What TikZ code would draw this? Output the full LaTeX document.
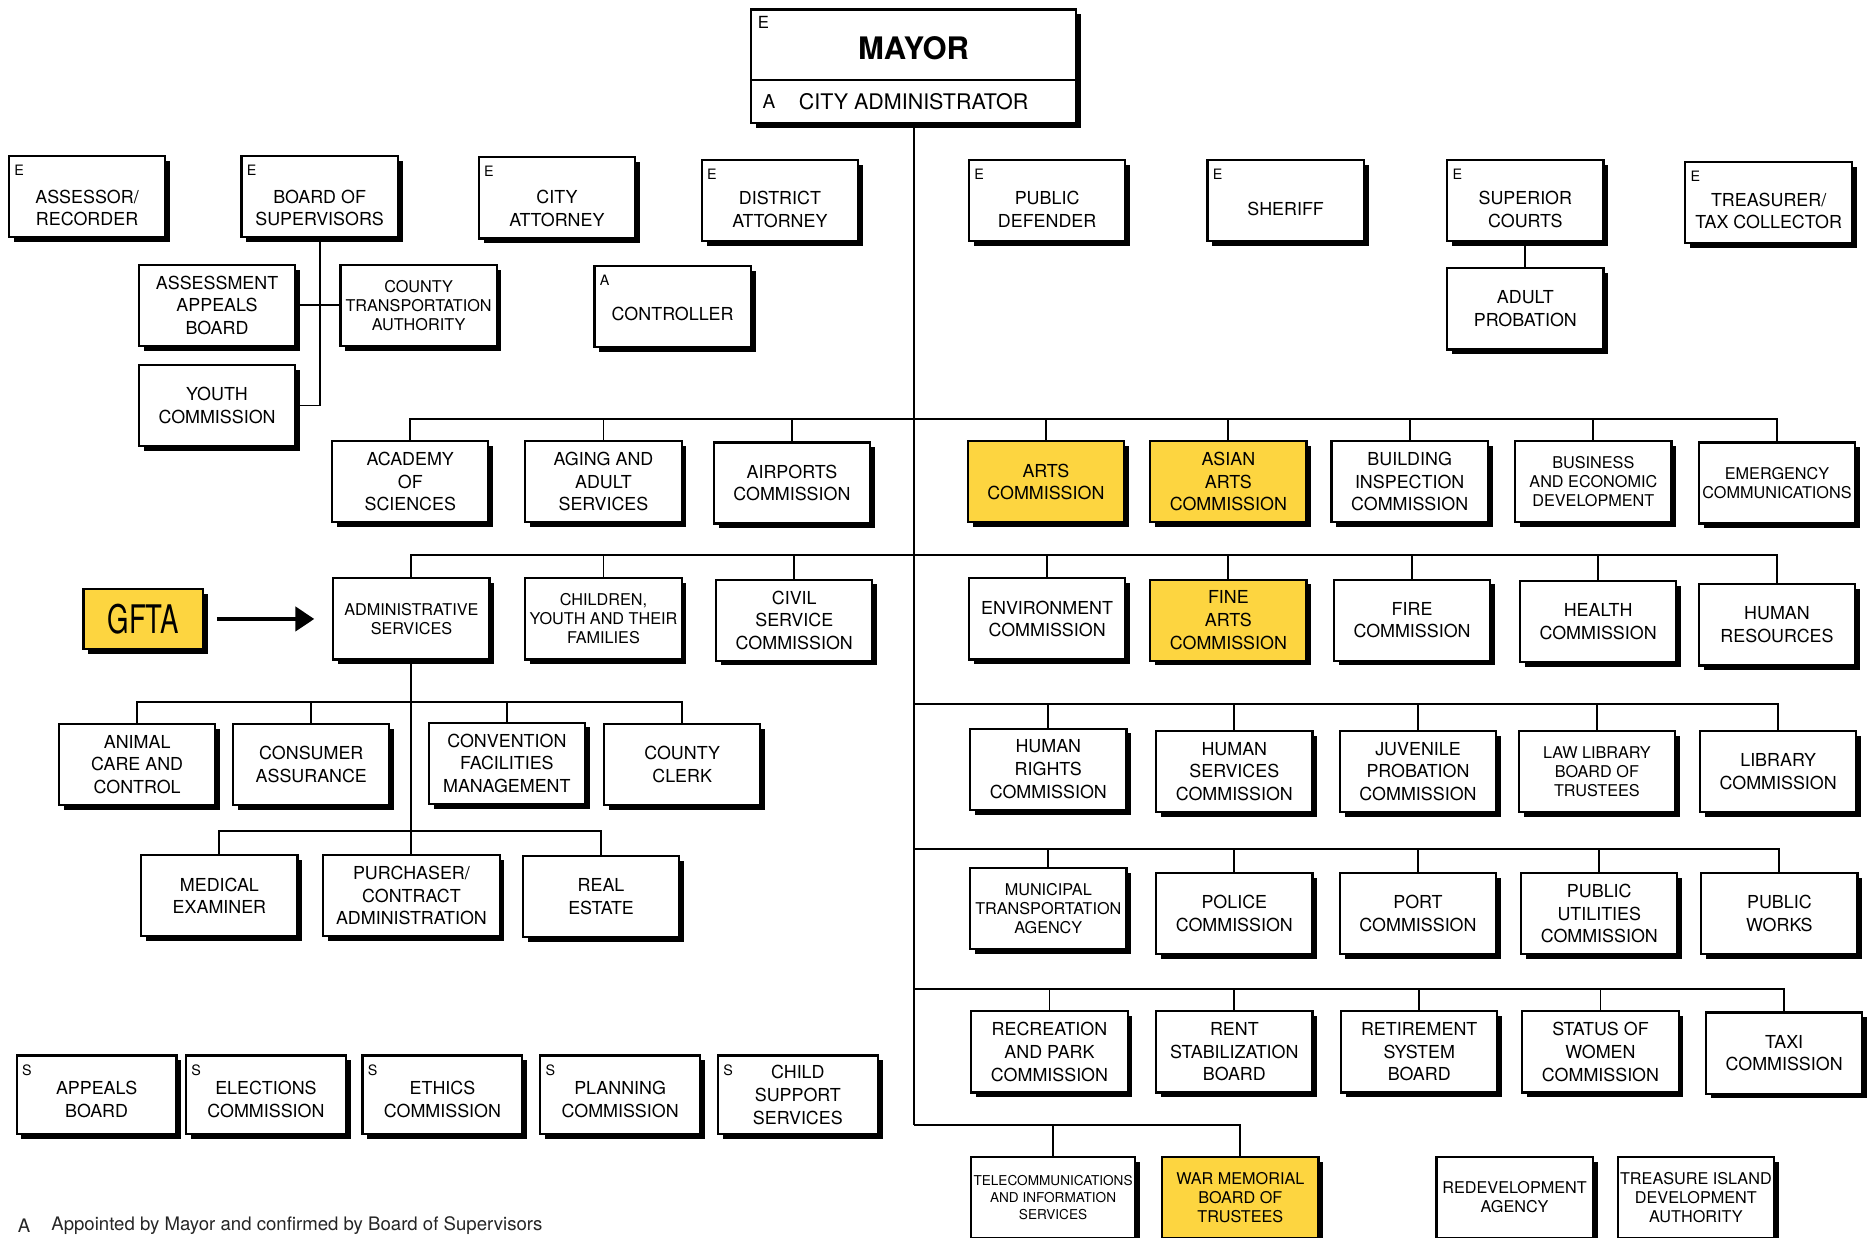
\documentclass[tikz,border=0pt]{standalone}
\usepackage{fontspec}
\setmainfont{TeX Gyre Heros}
\usetikzlibrary{shadows,arrows.meta}
\definecolor{hilite}{RGB}{253,213,64}
\newcommand{\bxf}{\fontsize{7.5}{9.5}\selectfont}
\newcommand{\smf}{\fontsize{6.8}{8}\selectfont}
\newcommand{\tnf}{\fontsize{5.7}{7}\selectfont}

\begin{document}
\begin{tikzpicture}[x=0.5pt,y=-0.5pt,
   unit/.style={draw,line width=0.9pt,fill=white,align=center,inner sep=1pt,
     minimum width=65.5pt,minimum height=34pt,font=\bxf,
     drop shadow={shadow xshift=2pt,shadow yshift=-2pt,fill=black,opacity=1}},
   gold/.style={unit,fill=hilite},
   tag/.style={label={[anchor=north west,inner xsep=2.5pt,inner ysep=4pt,font=\fontsize{6}{7}\selectfont]north west:#1}},
   sink/.style={text height=#1,text depth=0pt},
   link/.style={line width=0.8pt}]
   \fill[white] (0,0) rectangle (1568,1038);
   \useasboundingbox (0,0) rectangle (1568,1038);
   % mayor
   \node[unit,minimum width=136pt,minimum height=29.5pt,font=\bfseries\fontsize{13}{15}\selectfont,sink=12.5pt,
     label={[anchor=north west,inner sep=3pt,font=\fontsize{7}{8}\selectfont]north west:E}] (mayor) at (766,37.5) {MAYOR};
   \node[unit,minimum width=136pt,minimum height=18pt,font=\fontsize{9}{10}\selectfont,
     label={[anchor=west,inner sep=5pt,font=\fontsize{8}{9}\selectfont]west:A}] (cadm) at (766,85) {CITY ADMINISTRATOR};
   % elected officials
   \node[unit,tag=E,sink=24.5pt] (asr) at (73,165) {ASSESSOR/\\RECORDER};
   \node[unit,tag=E,sink=24.5pt] (bos) at (268,165) {BOARD OF\\SUPERVISORS};
   \node[unit,tag=E,sink=24pt] (catty) at (467,166) {CITY\\ATTORNEY};
   \node[unit,tag=E,sink=22.5pt] (datty) at (654,168) {DISTRICT\\ATTORNEY};
   \node[unit,tag=E,sink=22.5pt] (pdef) at (878,168) {PUBLIC\\DEFENDER};
   \node[unit,tag=E,sink=12.6pt] (sheriff) at (1078,168) {SHERIFF};
   \node[unit,tag=E,sink=22.5pt] (supct) at (1279,168) {SUPERIOR\\COURTS};
   \node[unit,tag=E,sink=22pt,minimum width=70pt] (treas) at (1483,170) {TREASURER/\\TAX COLLECTOR};
   \node[unit] (aab) at (182,256) {ASSESSMENT\\APPEALS\\BOARD};
   \node[unit,font=\smf] (cta) at (351,256) {COUNTY\\TRANSPORTATION\\AUTHORITY};
   \node[unit,tag=A,sink=11.6pt] (ctrl) at (564,257) {CONTROLLER};
   \node[unit] (aprob) at (1279,259) {ADULT\\PROBATION};
   \node[unit] (youth) at (182,340) {YOUTH\\COMMISSION};
   % departments, row 1
   \node[unit] (acad) at (344,404) {ACADEMY\\OF\\SCIENCES};
   \node[unit] (aging) at (506,404) {AGING AND\\ADULT\\SERVICES};
   \node[unit] (airp) at (664,405) {AIRPORTS\\COMMISSION};
   \node[gold] (arts) at (877,404) {ARTS\\COMMISSION};
   \node[gold] (asian) at (1030,404) {ASIAN\\ARTS\\COMMISSION};
   \node[unit] (bldg) at (1182,404) {BUILDING\\INSPECTION\\COMMISSION};
   \node[unit,font=\smf] (busn) at (1336,404) {BUSINESS\\AND ECONOMIC\\DEVELOPMENT};
   \node[unit,font=\smf] (emerg) at (1490,405) {EMERGENCY\\COMMUNICATIONS};
   % row 2
   \node[unit,font=\smf] (adm) at (345,519) {ADMINISTRATIVE\\SERVICES};
   \node[unit,font=\smf] (cyf) at (506,519) {CHILDREN,\\YOUTH AND THEIR\\FAMILIES};
   \node[unit] (csc) at (666,520) {CIVIL\\SERVICE\\COMMISSION};
   \node[unit] (env) at (878,519) {ENVIRONMENT\\COMMISSION};
   \node[gold] (fine) at (1030,520) {FINE\\ARTS\\COMMISSION};
   \node[unit] (fire) at (1184,520) {FIRE\\COMMISSION};
   \node[unit] (health) at (1340,521) {HEALTH\\COMMISSION};
   \node[unit] (hr) at (1490,524) {HUMAN\\RESOURCES};
   \node[gold,minimum width=50pt,minimum height=25pt,font=\fontsize{16.5}{17}\selectfont] (gfta) at (120,519) {\scalebox{0.7}[1]{GFTA}};
   % under administrative services
   \node[unit] (animal) at (115,641) {ANIMAL\\CARE AND\\CONTROL};
   \node[unit] (consumer) at (261,641) {CONSUMER\\ASSURANCE};
   \node[unit] (conv) at (425,640) {CONVENTION\\FACILITIES\\MANAGEMENT};
   \node[unit] (clerk) at (572,641) {COUNTY\\CLERK};
   \node[unit] (medex) at (184,751) {MEDICAL\\EXAMINER};
   \node[unit,minimum width=74pt] (purch) at (345,751) {PURCHASER/\\CONTRACT\\ADMINISTRATION};
   \node[unit] (realest) at (504,752) {REAL\\ESTATE};
   % row 3
   \node[unit] (hrc) at (879,645) {HUMAN\\RIGHTS\\COMMISSION};
   \node[unit] (hsc) at (1035,647) {HUMAN\\SERVICES\\COMMISSION};
   \node[unit] (juv) at (1189,647) {JUVENILE\\PROBATION\\COMMISSION};
   \node[unit,font=\smf] (lawlib) at (1339,647) {LAW LIBRARY\\BOARD OF\\TRUSTEES};
   \node[unit] (lib) at (1491,647) {LIBRARY\\COMMISSION};
   % row 4
   \node[unit,font=\smf] (mta) at (879,762) {MUNICIPAL\\TRANSPORTATION\\AGENCY};
   \node[unit] (police) at (1035,766) {POLICE\\COMMISSION};
   \node[unit] (port) at (1189,766) {PORT\\COMMISSION};
   \node[unit] (puc) at (1341,766) {PUBLIC\\UTILITIES\\COMMISSION};
   \node[unit] (pw) at (1492,766) {PUBLIC\\WORKS};
   % row 5
   \node[unit] (rec) at (880,882) {RECREATION\\AND PARK\\COMMISSION};
   \node[unit] (rent) at (1035,882) {RENT\\STABILIZATION\\BOARD};
   \node[unit] (retire) at (1190,882) {RETIREMENT\\SYSTEM\\BOARD};
   \node[unit] (women) at (1342,882) {STATUS OF\\WOMEN\\COMMISSION};
   \node[unit] (taxi) at (1496,883) {TAXI\\COMMISSION};
   % row 6
   \node[unit,font=\tnf,minimum width=67pt] (telecom) at (883,1004) {TELECOMMUNICATIONS\\AND INFORMATION\\SERVICES};
   \node[gold,font=\smf] (war) at (1040,1004) {WAR MEMORIAL\\BOARD OF\\TRUSTEES};
   \node[unit,font=\smf] (redev) at (1270,1004) {REDEVELOPMENT\\AGENCY};
   \node[unit,font=\smf] (treasure) at (1422,1004) {TREASURE ISLAND\\DEVELOPMENT\\AUTHORITY};
   % S boxes
   \node[unit,tag=S,sink=19pt,minimum width=67pt,minimum height=33pt] (appeals) at (81,918) {APPEALS\\BOARD};
   \node[unit,tag=S,sink=19pt,minimum width=67pt,minimum height=33pt] (elect) at (223,918) {ELECTIONS\\COMMISSION};
   \node[unit,tag=S,sink=19pt,minimum width=67pt,minimum height=33pt] (ethics) at (371,918) {ETHICS\\COMMISSION};
   \node[unit,tag=S,sink=19pt,minimum width=67pt,minimum height=33pt] (plan) at (520,918) {PLANNING\\COMMISSION};
   \node[unit,tag=S,minimum width=67pt,minimum height=33pt] (child) at (669,918) {CHILD\\SUPPORT\\SERVICES};
   % footnote
   \node[anchor=west,font=\fontsize{7.8}{9}\selectfont,text=black!85] (fa) at (8,1028) {A};
   \node[anchor=west,font=\fontsize{7.8}{9}\selectfont,text=black!85] (fnote) at (36,1028) {Appointed by Mayor and confirmed by Board of Supervisors};
   % lines
   \coordinate (b2) at (766,351);
   \coordinate (b3) at (766,465);
   \coordinate (b4) at (766,590);
   \coordinate (b5) at (766,712);
   \coordinate (b6) at (766,829);
   \coordinate (b7) at (766,943);
   \coordinate (a1) at (345,589);
   \coordinate (a2) at (345,697);
   \draw[link] (cadm.south) -- (b7);
   \draw[link] (bos.south) |- (youth.east);
   \draw[link] (aab.east) -- (cta.west);
   \draw[link] (supct.south) -- (aprob.north);
   \foreach \n in {acad,aging,airp,arts,asian,bldg,busn,emerg} \draw[link] (\n.north) |- (b2);
   \foreach \n in {adm,cyf,csc,env,fine,fire,health,hr} \draw[link] (\n.north) |- (b3);
   \foreach \n in {hrc,hsc,juv,lawlib,lib} \draw[link] (\n.north) |- (b4);
   \foreach \n in {mta,police,port,puc,pw} \draw[link] (\n.north) |- (b5);
   \foreach \n in {rec,rent,retire,women,taxi} \draw[link] (\n.north) |- (b6);
   \foreach \n in {telecom,war} \draw[link] (\n.north) |- (b7);
   \draw[link] (adm.south) -- (purch.north);
   \foreach \n in {animal,consumer,conv,clerk} \draw[link] (\n.north) |- (a1);
   \foreach \n in {medex,realest} \draw[link] (\n.north) |- (a2);
   \draw[line width=2pt,-{Triangle[length=8pt,width=10pt]},shorten <=5.5pt,shorten >=7.5pt] (gfta) -- (adm);
\end{tikzpicture}
\end{document}
